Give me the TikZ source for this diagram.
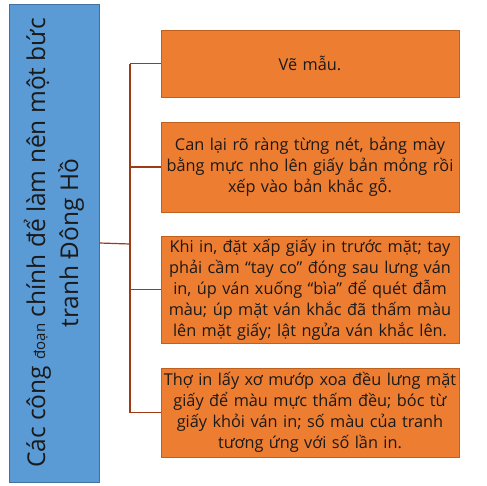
\documentclass[tikz,border=0pt]{standalone}
\usepackage{fontspec}
\setmainfont{Open Sans}
\usetikzlibrary{positioning}
\definecolor{titleblue}{HTML}{5B9BD5}
\definecolor{titleedge}{HTML}{41719C}
\definecolor{stepfill}{HTML}{ED7D31}
\definecolor{stepedge}{HTML}{C0601F}
\definecolor{linkred}{HTML}{9E3A14}
\definecolor{inktext}{HTML}{1A1A1A}

\begin{document}
\begin{tikzpicture}[x=1pt, y=-1pt,
    titlebox/.style={draw=titleedge, fill=titleblue, line width=1pt, rotate=90,
      minimum width=478pt, minimum height=90pt, inner sep=0pt,
      align=center, text=inktext,
      font=\fontsize{24.5}{33}\selectfont},
    stepbox/.style={draw=stepedge, fill=stepfill, line width=0.8pt,
      minimum width=298pt, inner sep=0pt, text width=296pt, align=center,
      text=inktext, font=\fontsize{16.3}{21}\selectfont},
    link/.style={draw=linkred, line width=1.2pt}]
      \useasboundingbox (0,0) rectangle (487,485);
      % title on the left
      \node[titlebox] (title) at (54,243)
        {Các công {\fontsize{15}{15}\selectfont đoạn} chính để làm nên một bức\\tranh Đông Hồ};
      % steps
      \node[stepbox, minimum height=67pt] (s1) at (310,63.5) {Vẽ mẫu.};
      \node[stepbox, minimum height=90pt] (s2) at (310,167)
        {Can lại rõ ràng từng nét, bảng mày\\bằng mực nho lên giấy bản mỏng rồi\\xếp vào bản khắc gỗ.};
      \node[stepbox, minimum height=107pt] (s3) at (310,289.5)
        {Khi in, đặt xấp giấy in trước mặt; tay\\phải cầm “tay co” đóng sau lưng ván\\in, úp ván xuống “bìa” để quét đẫm\\màu; úp mặt ván khắc đã thấm màu\\lên mặt giấy; lật ngửa ván khắc lên.};
      \node[stepbox, minimum height=89pt] (s4) at (310,412.5)
        {Thợ in lấy xơ mướp xoa đều lưng mặt\\giấy để màu mực thấm đều; bóc từ\\giấy khỏi ván in; số màu của tranh\\tương ứng với số lần in.};
      % connectors
      \coordinate (trunk) at (130,244);
      \draw[link] (title.south) -- (trunk);
      \draw[link] (trunk |- s1.west) -- (trunk |- s4.west);
      \foreach \i in {1,...,4}
        \draw[link] (trunk |- s\i.west) -- (s\i.west);
\end{tikzpicture}
\end{document}
